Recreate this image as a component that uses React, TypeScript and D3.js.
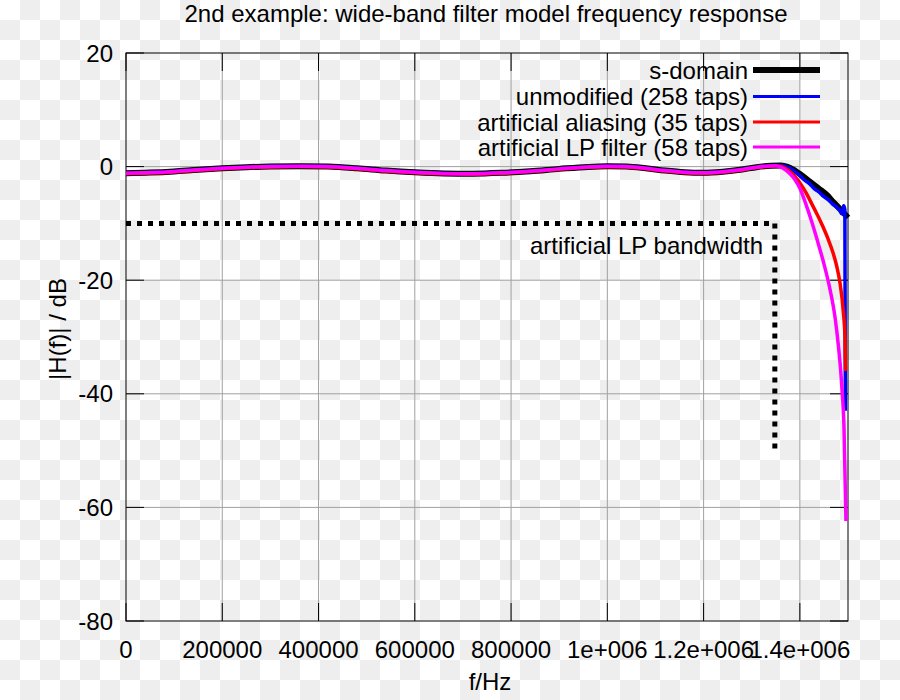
import React from "react";
import * as d3 from "d3";

const TITLE = "2nd example: wide-band filter model frequency response";
const X_LABEL = "f/Hz";
const Y_LABEL = "|H(f)| / dB";

const xTickValues = [0, 200000, 400000, 600000, 800000, 1000000, 1200000, 1400000];
const xTickLabels = ["0", "200000", "400000", "600000", "800000", "1e+006", "1.2e+006", "1.4e+006"];
const yTickValues = [-80, -60, -40, -20, 0, 20];
const yTickLabels = ["-80", "-60", "-40", "-20", "0", "20"];

// shared pass-band ripple (Hz, dB)
const passbandFreq = [0, 50000, 100000, 150000, 200000, 250000, 300000, 360000, 420000, 480000, 540000, 600000, 660000, 720000, 780000, 840000, 900000, 960000, 1000000, 1040000, 1080000, 1120000, 1160000, 1200000, 1240000, 1280000, 1310000, 1340000];
const passbandDb = [-1.15, -1.05, -0.85, -0.55, -0.3, -0.1, 0.03, 0.08, 0.0, -0.3, -0.7, -1.0, -1.2, -1.25, -1.1, -0.8, -0.4, -0.05, 0.05, 0.0, -0.3, -0.7, -1.0, -1.1, -0.9, -0.5, -0.1, 0.15];

const sDomainTailFreq = [1360000, 1380000, 1400000, 1420000, 1440000, 1456000, 1470000, 1485000, 1500000];
const sDomainTailDb = [0.2, -0.25, -1.3, -2.6, -3.9, -5.0, -6.3, -7.6, -9.0];

const unmodifiedTailFreq = [1360000, 1380000, 1400000, 1410000, 1420000, 1430000, 1440000, 1450000, 1460000, 1468000, 1476000, 1482000, 1487000, 1491000, 1493500, 1494500];
const unmodifiedTailDb = [0.2, -0.3, -1.6, -2.4, -3.0, -3.9, -4.5, -5.3, -5.9, -6.6, -7.1, -7.6, -8.3, -6.9, -7.6, -43];

const aliasingTailFreq = [1355000, 1370000, 1385000, 1400000, 1412700, 1425000, 1437000, 1448000, 1458400, 1469400, 1476500, 1483400, 1490200, 1493700, 1495100];
const aliasingTailDb = [0.1, -0.3, -1.3, -2.9, -4.6, -6.6, -8.6, -10.6, -12.7, -15.3, -17.5, -20.5, -25.5, -30, -36];

const lpFilterTailFreq = [1350000, 1365000, 1380000, 1390000, 1400000, 1412500, 1425000, 1437000, 1449000, 1462600, 1473000, 1480000, 1487000, 1491700, 1495800];
const lpFilterTailDb = [0.15, -0.3, -1.3, -2.3, -3.8, -6.6, -9.8, -13.2, -16.8, -21.6, -26.5, -31.5, -38.5, -46, -62.4];

// artificial LP bandwidth marker
const bandwidthFreq = [0, 1348000, 1348000];
const bandwidthDb = [-10, -10, -50];

const seriesNames = ["s-domain", "unmodified (258 taps)", "artificial aliasing (35 taps)", "artificial LP filter (58 taps)"];
const seriesColors = ["#000000", "#0000ff", "#ff0000", "#ff00ff"];
const seriesWidths = [6, 3.5, 3.5, 3.5];
const legendWidths = [6, 3, 3, 3];

const W = 900;
const H = 700;
const L = 126, R = 848, T = 53, B = 621;
const FONT = "'Liberation Sans', Arial, sans-serif";
const FS = 24;

function zip(f: number[], v: number[]) {
  return f.map((ff, i) => [ff, v[i]] as [number, number]);
}

export default function App() {
  const x = d3.scaleLinear().domain([0, 1500000]).range([L, R]);
  const y = d3.scaleLinear().domain([-80, 20]).range([B, T]);

  const pass = zip(passbandFreq, passbandDb);
  const passRed = zip(passbandFreq, passbandDb.map((d) => d - 0.08));
  const series = [
    pass.concat(zip(sDomainTailFreq, sDomainTailDb)),
    pass.concat(zip(unmodifiedTailFreq, unmodifiedTailDb)),
    passRed.concat(zip(aliasingTailFreq, aliasingTailDb)),
    pass.slice(0, pass.length - 1).concat(zip(lpFilterTailFreq, lpFilterTailDb)),
  ];

  const line = d3
    .line<[number, number]>()
    .x((d) => x(d[0]))
    .y((d) => y(d[1]))
    .curve(d3.curveMonotoneX);

  const bwLine = d3
    .line<[number, number]>()
    .x((d) => x(d[0]))
    .y((d) => y(d[1]));

  const tick = 18;
  const legendY = [70, 96.5, 122, 147];

  return (
    <svg
      width={W}
      height={H}
      style={{ position: "absolute", left: 0, top: 0, display: "block" }}
      fontFamily={FONT}
    >
      <defs>
        <pattern id="checker" width={40} height={40} patternUnits="userSpaceOnUse">
          <rect x={0} y={0} width={40} height={40} fill="#ffffff" />
          <rect x={20} y={0} width={20} height={20} fill="#eeeeee" />
          <rect x={0} y={20} width={20} height={20} fill="#eeeeee" />
        </pattern>
      </defs>
      <rect x={0} y={0} width={W} height={H} fill="url(#checker)" />

      {/* grid */}
      {xTickValues.slice(1).map((v) => (
        <line key={"gx" + v} x1={x(v)} x2={x(v)} y1={T} y2={B} stroke="#a0a0a0" strokeWidth={1} />
      ))}
      {yTickValues.slice(1, -1).map((v) => (
        <line key={"gy" + v} x1={L} x2={R} y1={y(v)} y2={y(v)} stroke="#a0a0a0" strokeWidth={1} />
      ))}

      {/* ticks */}
      {xTickValues.map((v) => (
        <g key={"tx" + v}>
          <line x1={x(v)} x2={x(v)} y1={B} y2={B - tick} stroke="#000" strokeWidth={1} />
          <line x1={x(v)} x2={x(v)} y1={T} y2={T + tick} stroke="#000" strokeWidth={1} />
        </g>
      ))}
      {yTickValues.map((v) => (
        <g key={"ty" + v}>
          <line x1={L} x2={L + tick} y1={y(v)} y2={y(v)} stroke="#000" strokeWidth={1} />
          <line x1={R} x2={R - tick} y1={y(v)} y2={y(v)} stroke="#000" strokeWidth={1} />
        </g>
      ))}

      {/* border */}
      <rect x={L} y={T} width={R - L} height={B - T} fill="none" stroke="#000" strokeWidth={1} />

      {/* tick labels */}
      {xTickValues.map((v, i) => (
        <text key={"lx" + v} x={x(v)} y={658} fontSize={FS} textAnchor="middle" fill="#000">
          {xTickLabels[i]}
        </text>
      ))}
      {yTickValues.map((v, i) => (
        <text key={"ly" + v} x={113} y={y(v) + 8.5} fontSize={FS} textAnchor="end" fill="#000">
          {yTickLabels[i]}
        </text>
      ))}

      {/* axis labels & title */}
      <text x={490} y={690} fontSize={FS} textAnchor="middle" fill="#000">
        {X_LABEL}
      </text>
      <text
        transform={`translate(66,${(T + B) / 2 - 8}) rotate(-90)`}
        fontSize={FS}
        textAnchor="middle"
        fill="#000"
      >
        {Y_LABEL}
      </text>
      <text x={486} y={22} fontSize={FS} textAnchor="middle" fill="#000">
        {TITLE}
      </text>

      {/* bandwidth marker */}
      <path
        d={bwLine(zip(bandwidthFreq, bandwidthDb)) || ""}
        fill="none"
        stroke="#000"
        strokeWidth={5}
        strokeDasharray="5,6"
      />
      <text x={763} y={254} fontSize={FS} textAnchor="end" fill="#000">
        artificial LP bandwidth
      </text>

      {/* curves */}
      {series.map((s, i) => (
        <path
          key={"s" + i}
          d={line(s) || ""}
          fill="none"
          stroke={seriesColors[i]}
          strokeWidth={seriesWidths[i]}
          strokeLinejoin="round"
        />
      ))}

      {/* legend */}
      {seriesNames.map((n, i) => (
        <g key={"lg" + i}>
          <text x={748} y={legendY[i] + 8.5} fontSize={FS} textAnchor="end" fill="#000">
            {n}
          </text>
          <line
            x1={753}
            x2={820}
            y1={legendY[i]}
            y2={legendY[i]}
            stroke={seriesColors[i]}
            strokeWidth={legendWidths[i]}
          />
        </g>
      ))}
    </svg>
  );
}
